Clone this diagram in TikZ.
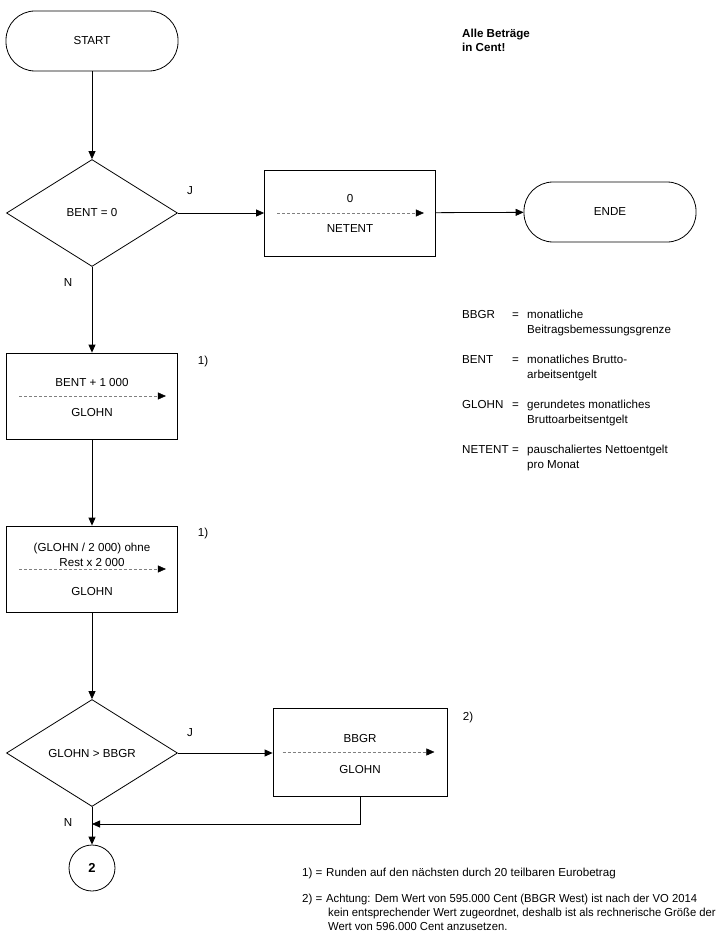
\documentclass[tikz,border=0pt]{standalone}
\usepackage{fontspec}
\setmainfont{Liberation Sans}
\usetikzlibrary{shapes.geometric,arrows.meta}
\tikzset{
  box/.style={draw,line width=0.8pt,minimum width=171pt,minimum height=86pt},
  term/.style={draw,line width=0.8pt,rounded corners=29pt,minimum width=172pt,minimum height=60pt},
  dec/.style={draw,diamond,line width=0.8pt,aspect=1.6,minimum width=171pt,minimum height=107pt,inner sep=0pt},
  con/.style={draw,circle,line width=0.8pt,minimum size=46pt,font=\fontsize{13}{15}\selectfont\bfseries},
  txt/.style={inner sep=0pt,anchor=base},
  lbl/.style={inner sep=0pt,anchor=base west},
  arr/.style={line width=0.8pt,-{Triangle[length=8pt,width=7pt]}},
  flow/.style={gray,line width=0.5pt,dash pattern=on 3pt off 2pt,-{Triangle[length=8pt,width=7pt,color=black]}}
}
\begin{document}
\begin{tikzpicture}[x=1pt,y=-1pt,font=\fontsize{11.6}{13}\selectfont]
      \useasboundingbox (0,0) rectangle (722,952);
      % Ablauf
      \node[term] (start) at (92,41) {START};
      \node[dec] (bent0) at (92,213) {BENT = 0};
      \node[box] (netent) at (350,213) {};
      \node[term] (ende) at (610,212) {ENDE};
      \node[box] (glohn1) at (92,396) {};
      \node[box] (glohn2) at (92,569) {};
      \node[dec] (bbgrq) at (92,753) {GLOHN > BBGR};
      \node[box,minimum width=174pt,minimum height=88pt] (bbgr) at (360,752) {};
      \node[con] (weiter) at (92,868) {2};
      \coordinate (join) at (92,824) ;
      % Zuweisungen in den Kaesten
      \node[txt] (netent-a) at (350,202) {0};
      \node[txt] (netent-b) at (350,232) {NETENT};
      \draw[flow] ([xshift=13pt]netent.west) -- ([xshift=-12pt]netent.east);
      \node[txt] (glohn1-a) at (92,386) {BENT + 1 000};
      \node[txt] (glohn1-b) at (92,416) {GLOHN};
      \draw[flow] ([xshift=13pt]glohn1.west) -- ([xshift=-12pt]glohn1.east);
      \node[txt] (glohn2-a) at (92,551) {(GLOHN / 2 000) ohne};
      \node[txt] (glohn2-b) at (92,566) {Rest x 2 000};
      \node[txt] (glohn2-c) at (92,595) {GLOHN};
      \draw[flow] ([xshift=13pt]glohn2.west) -- ([xshift=-12pt]glohn2.east);
      \node[txt] (bbgr-a) at (360,742) {BBGR};
      \node[txt] (bbgr-b) at (360,773) {GLOHN};
      \draw[flow] ([xshift=10pt]bbgr.west) -- ([xshift=-13pt]bbgr.east);
      % Verbindungen
      \draw[arr] (start) -- (bent0);
      \draw[arr] (bent0) -- (netent);
      \draw[arr] (netent) -- (ende);
      \draw[arr] (bent0) -- (glohn1);
      \draw[arr] (glohn1) -- (glohn2);
      \draw[arr] (glohn2) -- (bbgrq);
      \draw[arr] (bbgrq.east) -- (bbgr.west |- bbgrq.east);
      \draw[arr] (bbgrq) -- (weiter);
      \draw[arr] (bbgr.south) |- (join);
      \node[txt] (j1) at (190,194) {J};
      \node[txt] (n1) at (68,286) {N};
      \node[txt] (j2) at (190,736) {J};
      \node[txt] (n2) at (68,826) {N};
      \node[txt] (fn1a) at (203,364) {1)};
      \node[txt] (fn1b) at (203,536) {1)};
      \node[txt] (fn2) at (468,720) {2)};
      % Legende
      \node[lbl] (hinweis) at (462,38) {\bfseries Alle Beträge};
      \node[lbl] (hinweis2) at (462,52) {\bfseries in Cent!};
      \node[lbl] (d-bbgr) at (462,318) {BBGR};
      \node[lbl] at (512,318) {=};
      \node[lbl] at (527,318) {monatliche};
      \node[lbl] at (527,333) {Beitragsbemessungsgrenze};
      \node[lbl] (d-bent) at (462,363) {BENT};
      \node[lbl] at (512,363) {=};
      \node[lbl] at (527,363) {monatliches Brutto-};
      \node[lbl] at (527,378) {arbeitsentgelt};
      \node[lbl] (d-glohn) at (462,408) {GLOHN};
      \node[lbl] at (512,408) {=};
      \node[lbl] at (527,408) {gerundetes monatliches};
      \node[lbl] at (527,423) {Bruttoarbeitsentgelt};
      \node[lbl] (d-netent) at (462,453) {NETENT};
      \node[lbl] at (512,453) {=};
      \node[lbl] at (527,453) {pauschaliertes Nettoentgelt};
      \node[lbl] at (527,468) {pro Monat};
      % Fussnoten
      \node[lbl] (f1) at (302,876) {1) =};
      \node[lbl] at (326,876) {Runden auf den nächsten durch 20 teilbaren Eurobetrag};
      \node[lbl] (f2) at (302,902) {2) =};
      \node[lbl,xscale=0.97] at (326,902) {Achtung: Dem Wert von 595.000 Cent (BBGR West) ist nach der VO 2014};
      \node[lbl,xscale=0.97] at (328,916) {kein entsprechender Wert zugeordnet, deshalb ist als rechnerische Größe der};
      \node[lbl,xscale=0.97] at (328,930) {Wert von 596.000 Cent anzusetzen.};
    \end{tikzpicture}
\end{document}
